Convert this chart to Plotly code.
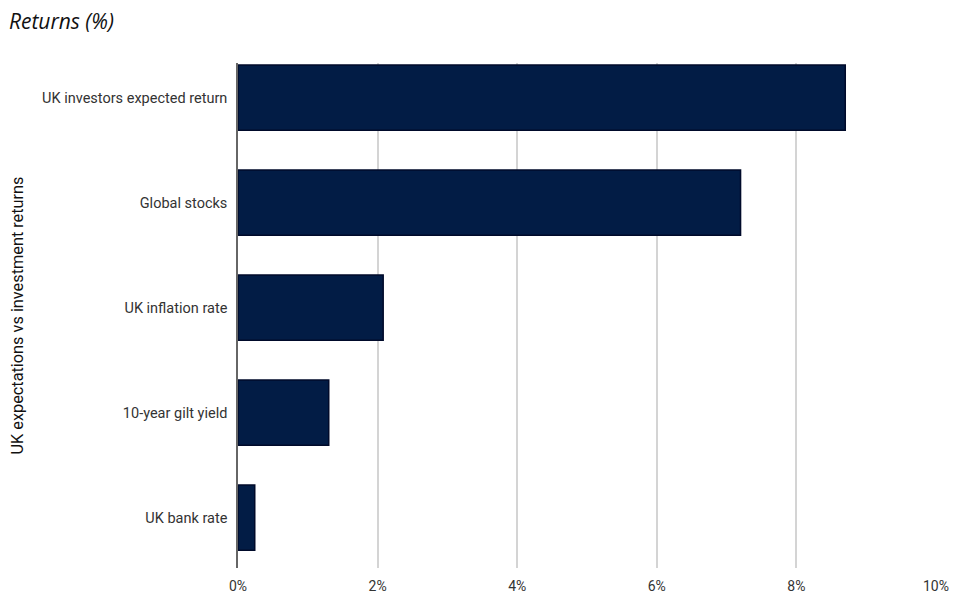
import plotly.graph_objects as go

categories = [
    "UK investors expected return",
    "Global stocks",
    "UK inflation rate",
    "10-year gilt yield",
    "UK bank rate",
]
returns_pct = [8.7, 7.2, 2.08, 1.3, 0.24]
x_ticks = [0, 2, 4, 6, 8, 10]
x_tick_labels = ["0%", "2%", "4%", "6%", "8%", "10%"]

fig = go.Figure()

fig.add_trace(go.Bar(
    x=returns_pct,
    y=categories,
    orientation="h",
    width=0.62,
    marker=dict(color="#021c45", line=dict(color="#000a2a", width=1.5)),
    hoverinfo="x+y",
))

# page body adds ~8px margin, so size the figure a bit smaller than the window
fig.update_layout(
    width=952,
    height=599,
    paper_bgcolor="white",
    plot_bgcolor="white",
    margin=dict(l=230, r=24, t=55, b=39),
    showlegend=False,
    title=dict(
        text="Returns (%)",
        x=0.001, xref="container", xanchor="left",
        y=0.977, yref="container", yanchor="middle",
        font=dict(family="Open Sans", size=21, color="#111111", style="italic"),
    ),
    xaxis=dict(
        range=[0, 10],
        tickvals=x_ticks,
        ticktext=x_tick_labels,
        showgrid=True,
        gridcolor="#d4d4d4",
        gridwidth=1.5,
        zeroline=False,
        showline=False,
        ticks="",
        ticklabelstandoff=8,
        tickfont=dict(family="Roboto", size=14, color="#333333"),
        automargin=False,
        fixedrange=True,
    ),
    yaxis=dict(
        range=[4.48, -0.33],
        showgrid=False,
        zeroline=False,
        showline=True,
        linecolor="#666666",
        linewidth=1.5,
        ticks="",
        ticklabelstandoff=6,
        tickfont=dict(family="Roboto", size=14.5, color="#333333"),
        title=dict(
            text="UK expectations vs investment returns",
            font=dict(family="Roboto", size=16.3, color="#111111"),
            standoff=20,
        ),
        automargin=False,
        fixedrange=True,
    ),
)

fig.write_html("out.html")
